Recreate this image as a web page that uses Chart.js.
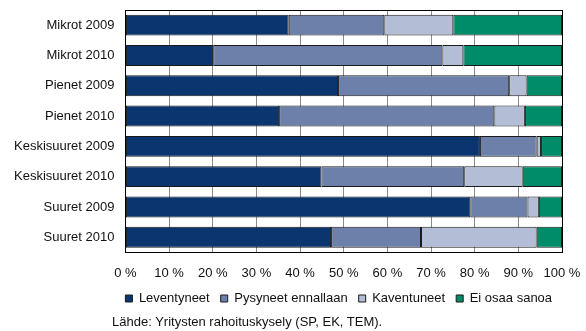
<!DOCTYPE html>
<html>
<head>
<meta charset="utf-8">
<script src="https://cdn.jsdelivr.net/npm/chart.js@4"></script>
<style>
    body { margin: 0; background: #fff; }
    #wrap { position: relative; width: 586px; height: 331px; }
    #lahde {
        position: absolute; left: 112px; top: 314px;
        font: 13px "Liberation Sans", Arial, sans-serif; color: #111;
    }
</style>
</head>
<body>
<div id="wrap">
    <canvas id="graafi" width="586" height="331"></canvas>
    <div id="lahde">Lähde: Yritysten rahoituskysely (SP, EK, TEM).</div>
</div>
<script>
const ryhmat = ['Mikrot 2009', 'Mikrot 2010', 'Pienet 2009', 'Pienet 2010',
    'Keskisuuret 2009', 'Keskisuuret 2010', 'Suuret 2009', 'Suuret 2010'];

const leventyneet = [37.4, 20.1, 48.7, 35.2, 81.2, 44.9, 79.0, 47.1];
const pysyneet = [21.9, 52.5, 39.2, 49.3, 13.0, 32.7, 13.1, 20.6];
const kaventuneet = [15.8, 4.8, 4.0, 7.0, 1.0, 13.4, 2.6, 26.5];
const eiOsaa = [24.9, 22.6, 8.1, 8.5, 4.8, 9.0, 5.3, 5.8];

const xTicks = [0, 10, 20, 30, 40, 50, 60, 70, 80, 90, 100];

const fontti = { family: '"Liberation Sans", Arial, sans-serif', size: 13 };

// musta kehys piirtoalueen ympärille
const kehys = {
    id: 'kehys',
    afterDatasetsDraw(chart) {
        const a = chart.chartArea;
        const c = chart.ctx;
        c.save();
        c.strokeStyle = '#000';
        c.lineWidth = 1;
        c.strokeRect(Math.round(a.left) + 0.5, Math.round(a.top) + 0.5,
            Math.round(a.right - a.left), Math.round(a.bottom - a.top));
        c.restore();
    }
};

// selite piirtoalueen keskelle, leveämpi tila ettei rivi katkea
const seliteKeskelle = {
    id: 'seliteKeskelle',
    afterLayout(chart) {
        const keski = (chart.chartArea.left + chart.chartArea.right) / 2 - 5;
        chart.legend.left = keski - 260;
        chart.legend.right = keski + 260;
    }
};

function sarja(nimi, data, vari) {
    return {
        label: nimi,
        data: data,
        backgroundColor: vari,
        borderColor: '#1a1a1a',
        borderWidth: 1,
        borderSkipped: false,
        barPercentage: 0.69,
        categoryPercentage: 1
    };
}

new Chart(document.getElementById('graafi'), {
    type: 'bar',
    data: {
        labels: ryhmat,
        datasets: [
            sarja('Leventyneet', leventyneet, '#0b356f'),
            sarja('Pysyneet ennallaan', pysyneet, '#6d80a9'),
            sarja('Kaventuneet', kaventuneet, '#b3bdd6'),
            sarja('Ei osaa sanoa', eiOsaa, '#008c68')
        ]
    },
    options: {
        indexAxis: 'y',
        responsive: false,
        animation: false,
        layout: {
            padding: { top: 10, right: 2, bottom: 16, left: 3 }
        },
        plugins: {
            legend: {
                position: 'bottom',
                labels: {
                    boxWidth: 7,
                    boxHeight: 7,
                    padding: 11,
                    color: '#111',
                    font: fontti
                }
            },
            tooltip: { enabled: false }
        },
        scales: {
            x: {
                stacked: true,
                min: 0,
                max: 100,
                afterBuildTicks(axis) {
                    axis.ticks = xTicks.map(v => ({ value: v }));
                },
                afterFit(axis) {
                    axis.height -= 13;
                    axis.paddingLeft = 0;
                    axis.paddingRight = 24;
                },
                ticks: {
                    color: '#111',
                    font: fontti,
                    padding: 13,
                    maxRotation: 0,
                    callback: v => v + ' %'
                },
                grid: {
                    color: '#8a8a8a',
                    lineWidth: 1,
                    drawTicks: false
                },
                border: { color: '#000' }
            },
            y: {
                stacked: true,
                afterFit(axis) {
                    axis.paddingTop = 0;
                    axis.paddingBottom = 0;
                },
                ticks: {
                    color: '#111',
                    font: fontti,
                    padding: 11
                },
                grid: { display: false, drawTicks: false },
                border: { color: '#000' }
            }
        }
    },
    plugins: [kehys, seliteKeskelle]
});
</script>
</body>
</html>
